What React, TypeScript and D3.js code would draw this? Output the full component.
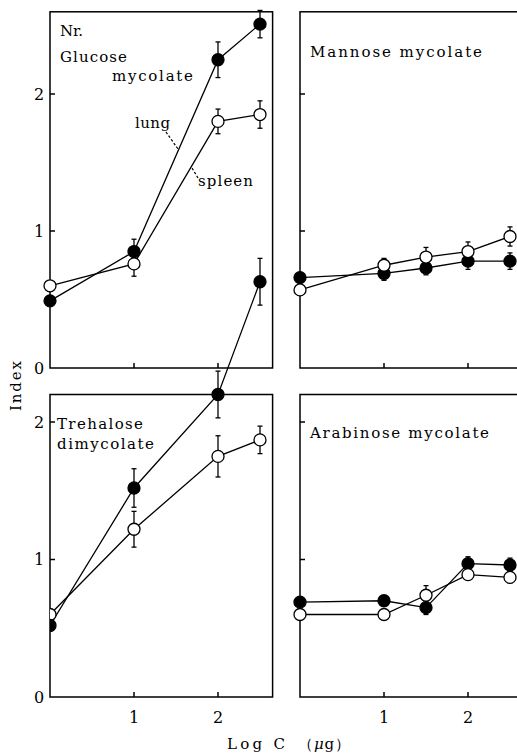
import React from "react";
import * as d3 from "d3";

// Dose levels (log C, µg) for each preparation
const X_GLUCOSE = [0, 1, 2, 2.5];
const X_MANNOSE = [0, 1, 1.5, 2, 2.5];
const X_TREHALOSE = [0, 1, 2, 2.5];
const X_ARABINOSE = [0, 1, 1.5, 2, 2.5];

// Index values, lung (filled) and spleen (open), with error half-widths
const GLUCOSE_LUNG = [0.49, 0.85, 2.25, 2.51];
const GLUCOSE_LUNG_ERR = [0, 0.09, 0.13, 0.1];
const GLUCOSE_SPLEEN = [0.6, 0.76, 1.8, 1.85];
const GLUCOSE_SPLEEN_ERR = [0, 0.09, 0.09, 0.1];

const MANNOSE_LUNG = [0.66, 0.69, 0.73, 0.78, 0.78];
const MANNOSE_LUNG_ERR = [0, 0.05, 0.05, 0.06, 0.06];
const MANNOSE_SPLEEN = [0.57, 0.75, 0.81, 0.85, 0.96];
const MANNOSE_SPLEEN_ERR = [0, 0.05, 0.07, 0.07, 0.07];

const TREHALOSE_LUNG = [0.52, 1.52, 2.2, 3.02];
const TREHALOSE_LUNG_ERR = [0, 0.14, 0.17, 0.17];
const TREHALOSE_SPLEEN = [0.6, 1.22, 1.75, 1.87];
const TREHALOSE_SPLEEN_ERR = [0, 0.13, 0.15, 0.1];

const ARABINOSE_LUNG = [0.69, 0.7, 0.65, 0.97, 0.96];
const ARABINOSE_LUNG_ERR = [0, 0, 0.05, 0.05, 0.05];
const ARABINOSE_SPLEEN = [0.6, 0.6, 0.74, 0.89, 0.87];
const ARABINOSE_SPLEEN_ERR = [0, 0, 0.07, 0, 0.04];

const Y_TICKS = [0, 1, 2];
const X_TICKS = [1, 2];
const X_MAX = 2.65;

const FONT = "'DejaVu Serif', 'Liberation Serif', serif";

type Series = { x: number[]; y: number[]; err: number[]; filled: boolean };

function Panel(props: {
  xs: d3.ScaleLinear<number, number>;
  ys: d3.ScaleLinear<number, number>;
  yMax: number;
  series: Series[];
  yLabels: boolean;
  xLabels: boolean;
  clipId?: string;
}) {
  const { xs, ys, yMax, series, yLabels, xLabels, clipId } = props;
  const line = d3
    .line<[number, number]>()
    .x((d) => xs(d[0]))
    .y((d) => ys(d[1]));
  const x0 = xs(0);
  const x1 = xs(X_MAX);
  const yTop = ys(yMax);
  const yBot = ys(0);
  const r = 6;
  return (
    <g>
      {clipId && (
        <clipPath id={clipId}>
          <rect x={x0} y={-1000} width={2000} height={3000} />
        </clipPath>
      )}
      {/* frame */}
      <rect
        x={x0}
        y={yTop}
        width={x1 - x0}
        height={yBot - yTop}
        fill="none"
        stroke="#000"
        strokeWidth={1.5}
      />
      {/* inward ticks */}
      {Y_TICKS.filter((t) => t > 0 && t <= yMax).map((t) => (
        <line key={"yt" + t} x1={x0} x2={x0 + 5} y1={ys(t)} y2={ys(t)} stroke="#000" strokeWidth={1.5} />
      ))}
      {X_TICKS.map((t) => (
        <line key={"xt" + t} x1={xs(t)} x2={xs(t)} y1={yBot} y2={yBot - 5} stroke="#000" strokeWidth={1.5} />
      ))}
      {yLabels &&
        Y_TICKS.map((t) => (
          <text key={"yl" + t} x={x0 - 11} y={ys(t) + 5.5} fontSize={16} fontFamily={FONT} textAnchor="middle">
            {t}
          </text>
        ))}
      {xLabels &&
        X_TICKS.map((t) => (
          <text key={"xl" + t} x={xs(t)} y={yBot + 26} fontSize={16} fontFamily={FONT} textAnchor="middle">
            {t}
          </text>
        ))}
      <g clipPath={clipId ? `url(#${clipId})` : undefined}>
        {series.map((s, i) => (
          <path
            key={"ln" + i}
            d={line(s.x.map((x, j) => [x, s.y[j]] as [number, number])) || ""}
            fill="none"
            stroke="#000"
            strokeWidth={1.3}
          />
        ))}
        {series.map((s, i) =>
          s.x.map((x, j) =>
            s.err[j] > 0 ? (
              <g key={`eb${i}-${j}`} stroke="#000" strokeWidth={1.3}>
                <line x1={xs(x)} x2={xs(x)} y1={ys(s.y[j] - s.err[j])} y2={ys(s.y[j] + s.err[j])} />
                <line x1={xs(x) - 2.5} x2={xs(x) + 2.5} y1={ys(s.y[j] + s.err[j])} y2={ys(s.y[j] + s.err[j])} />
                <line x1={xs(x) - 2.5} x2={xs(x) + 2.5} y1={ys(s.y[j] - s.err[j])} y2={ys(s.y[j] - s.err[j])} />
              </g>
            ) : null
          )
        )}
        {series.map((s, i) =>
          s.x.map((x, j) => (
            <circle
              key={`pt${i}-${j}`}
              cx={xs(x)}
              cy={ys(s.y[j])}
              r={r}
              fill={s.filled ? "#000" : "#fff"}
              stroke="#000"
              strokeWidth={1.3}
            />
          ))
        )}
      </g>
    </g>
  );
}

export default function App() {
  const xLeft = d3.scaleLinear().domain([0, X_MAX]).range([50, 50 + X_MAX * 84]);
  const xRight = d3.scaleLinear().domain([0, X_MAX]).range([300, 300 + X_MAX * 84]);
  const yTop = d3.scaleLinear().domain([0, 2.6]).range([368, 368 - 2.6 * 137]);
  const yBottom = d3.scaleLinear().domain([0, 2.2]).range([697, 697 - 2.2 * 137.5]);

  const textStyle = { fontFamily: FONT, fontSize: 15 };

  return (
    <svg
      width={517}
      height={755}
      viewBox="0 0 517 755"
      style={{ position: "absolute", left: 0, top: 0, background: "#fff" }}
    >
      <rect x={0} y={0} width={517} height={755} fill="#fff" />
      <Panel
        xs={xLeft}
        ys={yTop}
        yMax={2.6}
        yLabels
        xLabels={false}
        series={[
          { x: X_GLUCOSE, y: GLUCOSE_LUNG, err: GLUCOSE_LUNG_ERR, filled: true },
          { x: X_GLUCOSE, y: GLUCOSE_SPLEEN, err: GLUCOSE_SPLEEN_ERR, filled: false },
        ]}
      />
      <Panel
        xs={xRight}
        ys={yTop}
        yMax={2.6}
        yLabels={false}
        xLabels={false}
        series={[
          { x: X_MANNOSE, y: MANNOSE_LUNG, err: MANNOSE_LUNG_ERR, filled: true },
          { x: X_MANNOSE, y: MANNOSE_SPLEEN, err: MANNOSE_SPLEEN_ERR, filled: false },
        ]}
      />
      <Panel
        xs={xLeft}
        ys={yBottom}
        yMax={2.2}
        yLabels
        xLabels
        clipId="clip-trehalose"
        series={[
          { x: X_TREHALOSE, y: TREHALOSE_SPLEEN, err: TREHALOSE_SPLEEN_ERR, filled: false },
          { x: X_TREHALOSE, y: TREHALOSE_LUNG, err: TREHALOSE_LUNG_ERR, filled: true },
        ]}
      />
      <Panel
        xs={xRight}
        ys={yBottom}
        yMax={2.2}
        yLabels={false}
        xLabels
        series={[
          { x: X_ARABINOSE, y: ARABINOSE_LUNG, err: ARABINOSE_LUNG_ERR, filled: true },
          { x: X_ARABINOSE, y: ARABINOSE_SPLEEN, err: ARABINOSE_SPLEEN_ERR, filled: false },
        ]}
      />

      {/* panel titles */}
      <g style={textStyle}>
        <text x={60} y={36} textLength={23} lengthAdjust="spacing">Nr.</text>
        <text x={60} y={62} textLength={67} lengthAdjust="spacing">Glucose</text>
        <text x={112} y={81} textLength={81} lengthAdjust="spacing">mycolate</text>
        <text x={310} y={57} textLength={172} lengthAdjust="spacing">Mannose  mycolate</text>
        <text x={57} y={429} textLength={86} lengthAdjust="spacing">Trehalose</text>
        <text x={57} y={449} textLength={97} lengthAdjust="spacing">dimycolate</text>
        <text x={310} y={438} textLength={179} lengthAdjust="spacing">Arabinose  mycolate</text>
        <text x={135} y={128} textLength={35} lengthAdjust="spacing">lung</text>
        <text x={198} y={186} textLength={55} lengthAdjust="spacing">spleen</text>
      </g>
      {/* leaders from series names to their lines */}
      <line x1={166} y1={132} x2={178} y2={149} stroke="#000" strokeWidth={1.2} strokeDasharray="2.5,2" />
      <line x1={198} y1={178} x2={192} y2={168} stroke="#000" strokeWidth={1.2} strokeDasharray="2.5,2" />

      {/* axis titles */}
      <text
        transform="translate(21,386) rotate(-90)"
        textAnchor="middle"
        fontFamily={FONT}
        fontSize={15}
        textLength={50}
        lengthAdjust="spacing"
      >
        Index
      </text>
      <text x={227} y={749} fontFamily={FONT} fontSize={15} textLength={58} lengthAdjust="spacing">
        Log C
      </text>
      <text x={298} y={749} fontFamily={FONT} fontSize={15} textLength={52} lengthAdjust="spacing">
        （<tspan fontStyle="italic">μ</tspan>g）
      </text>
    </svg>
  );
}
